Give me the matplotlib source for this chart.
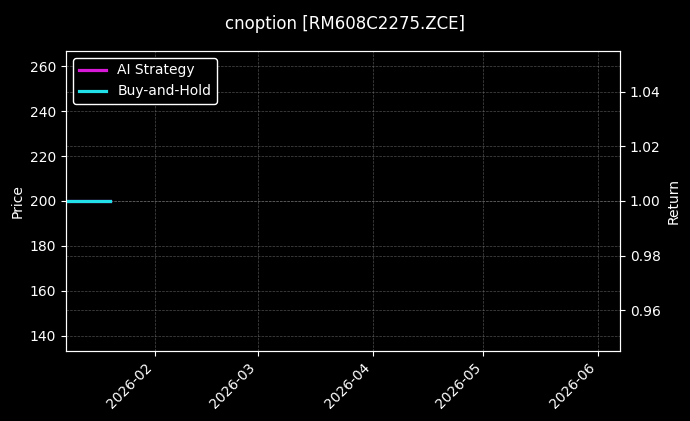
import matplotlib
matplotlib.use("Agg")
import matplotlib.pyplot as plt
import matplotlib.dates as mdates
import pandas as pd
import numpy as np

dates = pd.to_datetime(["2026-01-08", "2026-01-09", "2026-01-12", "2026-01-13",
                        "2026-01-14", "2026-01-15", "2026-01-16", "2026-01-19",
                        "2026-01-20"])
price = [200, 200, 200, 200, 200, 200, 200, 200, 200]
ai_return = [1.0, 1.0, 1.0, 1.0, 1.0, 1.0, 1.0, 1.0, 1.0]
bh_return = [1.0, 1.0, 1.0, 1.0, 1.0, 1.0, 1.0, 1.0, 1.0]
title = "cnoption [RM608C2275.ZCE]"

plt.style.use("dark_background")
fig = plt.figure(figsize=(6.9, 4.21), dpi=100, facecolor="black")
ax = fig.add_axes([0.0957, 0.1663, 0.8029, 0.7126], facecolor="black")
ax2 = ax.twinx()

ax.plot(dates, price, color="none")
ax.set_ylim(133.3, 266.7)
ax.set_ylabel("Price", color="white")
ax.grid(True, color="gray", linestyle="--", linewidth=0.5, alpha=0.6)

ax2.plot(dates, ai_return, color="#d81ad8", linewidth=2.3, label="AI Strategy")
ax2.plot(dates, bh_return, color="#22e0e8", linewidth=2.3, label="Buy-and-Hold")
ax2.set_ylim(0.945, 1.055)
ax2.set_ylabel("Return", color="white")
ax2.grid(True, color="gray", linestyle="--", linewidth=0.5, alpha=0.6)

ax.set_xlim(pd.Timestamp("2026-01-08"), pd.Timestamp("2026-06-07"))
ax.xaxis.set_major_locator(mdates.MonthLocator())
ax.xaxis.set_major_formatter(mdates.DateFormatter("%Y-%m"))
for lbl in ax.get_xticklabels():
    lbl.set_rotation(45)
    lbl.set_ha("right")

leg = ax2.legend(loc="upper left", facecolor="black", edgecolor="white", framealpha=1)

fig.suptitle(title, color="white", fontsize=12, y=0.965)
fig.savefig("out.png", dpi=100, facecolor="black")
